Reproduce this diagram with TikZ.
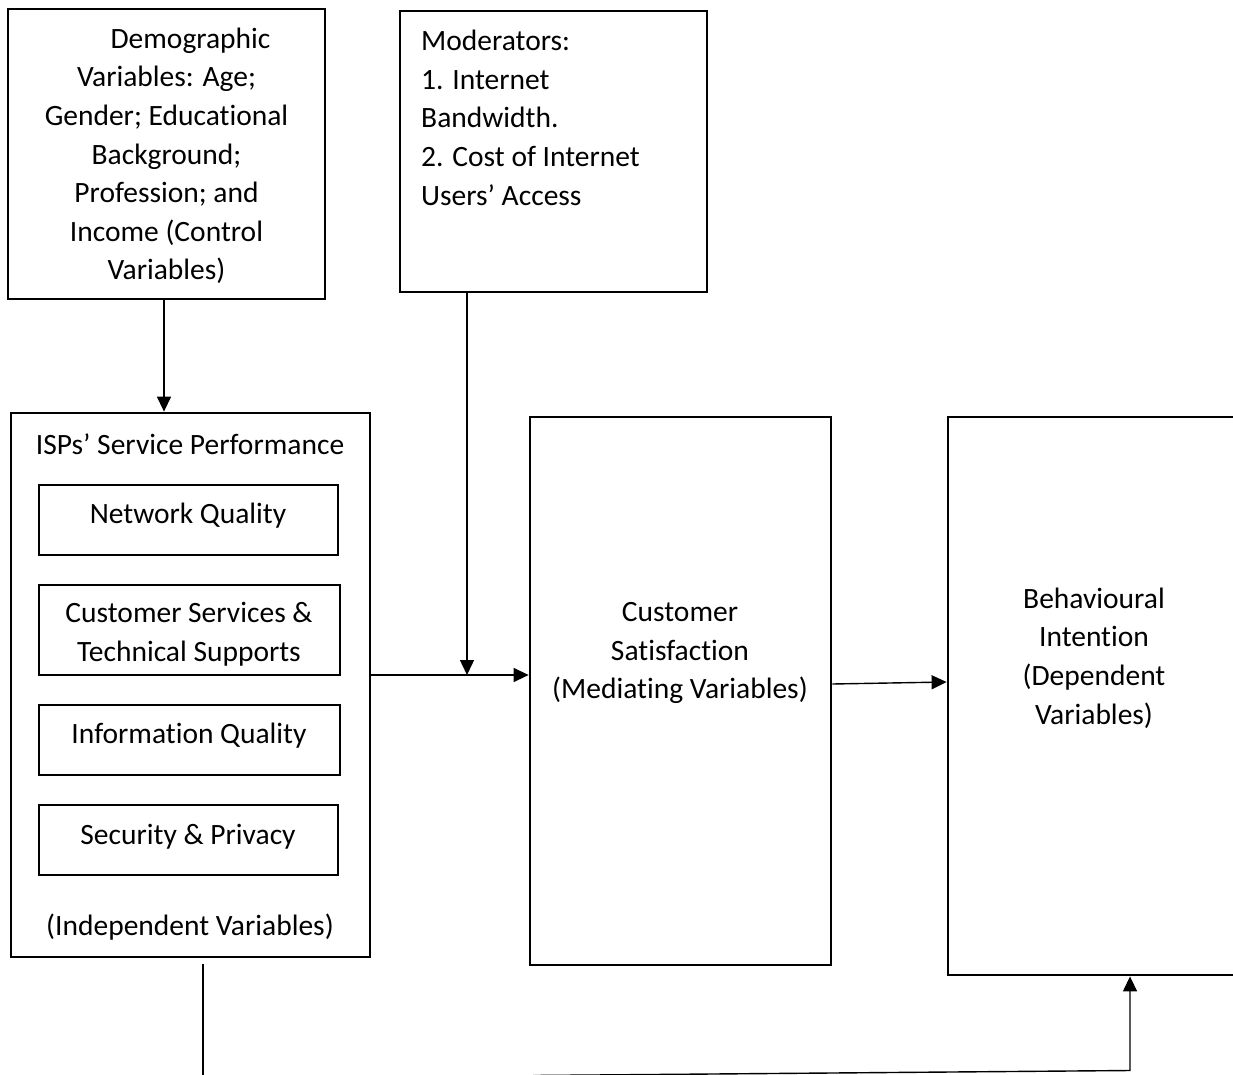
\documentclass[tikz,border=0pt]{standalone}
\usepackage{fontspec}
\setmainfont{Carlito}[Ligatures={NoCommon,NoRequired,NoContextual}]
\usetikzlibrary{arrows.meta}
\begin{document}
\begin{tikzpicture}[x=1pt,y=-1pt,
  box/.style={draw, line width=2.8pt, inner sep=0pt},
  sub/.style={draw, line width=1.9pt, inner sep=0pt},
  lbl/.style={font=\fontsize{29.5}{38.6}\selectfont, align=center, inner sep=0pt},
  conn/.style={line width=1.4pt, -{Triangle[length=15pt,width=14pt]}},
  plainline/.style={line width=1.4pt}]
\useasboundingbox (0,0) rectangle (1233,1075);
\begin{scope}
\clip (0,0) rectangle (1233,1075);
% boxes
\node[box, minimum width=317pt, minimum height=290pt] (demo) at (166.5,154) {};
\node[box, minimum width=307pt, minimum height=281pt] (mod) at (553.5,151.5) {};
\node[box, minimum width=359pt, minimum height=544pt] (isp) at (190.5,685) {};
\node[sub, minimum width=299pt, minimum height=70pt] (nq) at (188.5,520) {};
\node[sub, minimum width=301pt, minimum height=90pt] (cs) at (189.5,630) {};
\node[sub, minimum width=301pt, minimum height=70pt] (iq) at (189.5,740) {};
\node[sub, minimum width=299pt, minimum height=70pt] (sp) at (188.5,840) {};
\node[box, minimum width=301pt, minimum height=548pt] (sat) at (680.5,691) {};
\node[box, minimum width=292pt, minimum height=558pt] (beh) at (1094,696) {};
% texts
\node[lbl] (demotxt) at ([yshift=-2pt]demo.center) {\hspace{48pt}Demographic\\Variables: Age;\\Gender; Educational\\Background;\\Profession; and\\Income (Control\\Variables)};
\node[lbl, align=left, anchor=north west] (modtxt) at (421,30) {Moderators:\\1. Internet\\Bandwidth.\\2. Cost of Internet\\Users’ Access};
\node[lbl] (isptitle) at (190,444) {ISPs’ Service Performance};
\node[lbl] (nqtxt) at (188,516) {Network Quality};
\node[lbl] (cstxt) at (189,634) {Customer Services \&\\Technical Supports};
\node[lbl] (iqtxt) at (189,736) {Information Quality};
\node[lbl] (sptxt) at (188,837) {Security \& Privacy};
\node[lbl] (indtxt) at (190,927) {(Independent Variables)};
\node[lbl] (sattxt) at (680,653) {Customer\\Satisfaction\\(Mediating Variables)};
\node[lbl] (behtxt) at (1094,658) {Behavioural\\Intention\\(Dependent\\Variables)};
% connectors
\coordinate (j) at (467,675);
\draw[conn] ([xshift=-2.5pt]demo.south) -- ([xshift=-2.5pt]demo.south |- isp.north);
\draw[conn] ([xshift=-86.5pt]mod.south) -- (j);
\draw[conn] ([yshift=10pt]isp.east) -- ([yshift=10pt]isp.east -| sat.west);
\draw[conn] ([yshift=7pt]sat.east) -- ([yshift=14pt]beh.west);
\coordinate (b1) at (203,1080);
\draw[plainline] ([xshift=12.5pt,yshift=-6pt]isp.south) -- (b1);
\coordinate (b2) at (533,1075.5);
\coordinate (b3) at (1130,1070.5);
\draw[conn] (b2) -- (b3) -- (b3 |- beh.south);
\end{scope}
\end{tikzpicture}
\end{document}
